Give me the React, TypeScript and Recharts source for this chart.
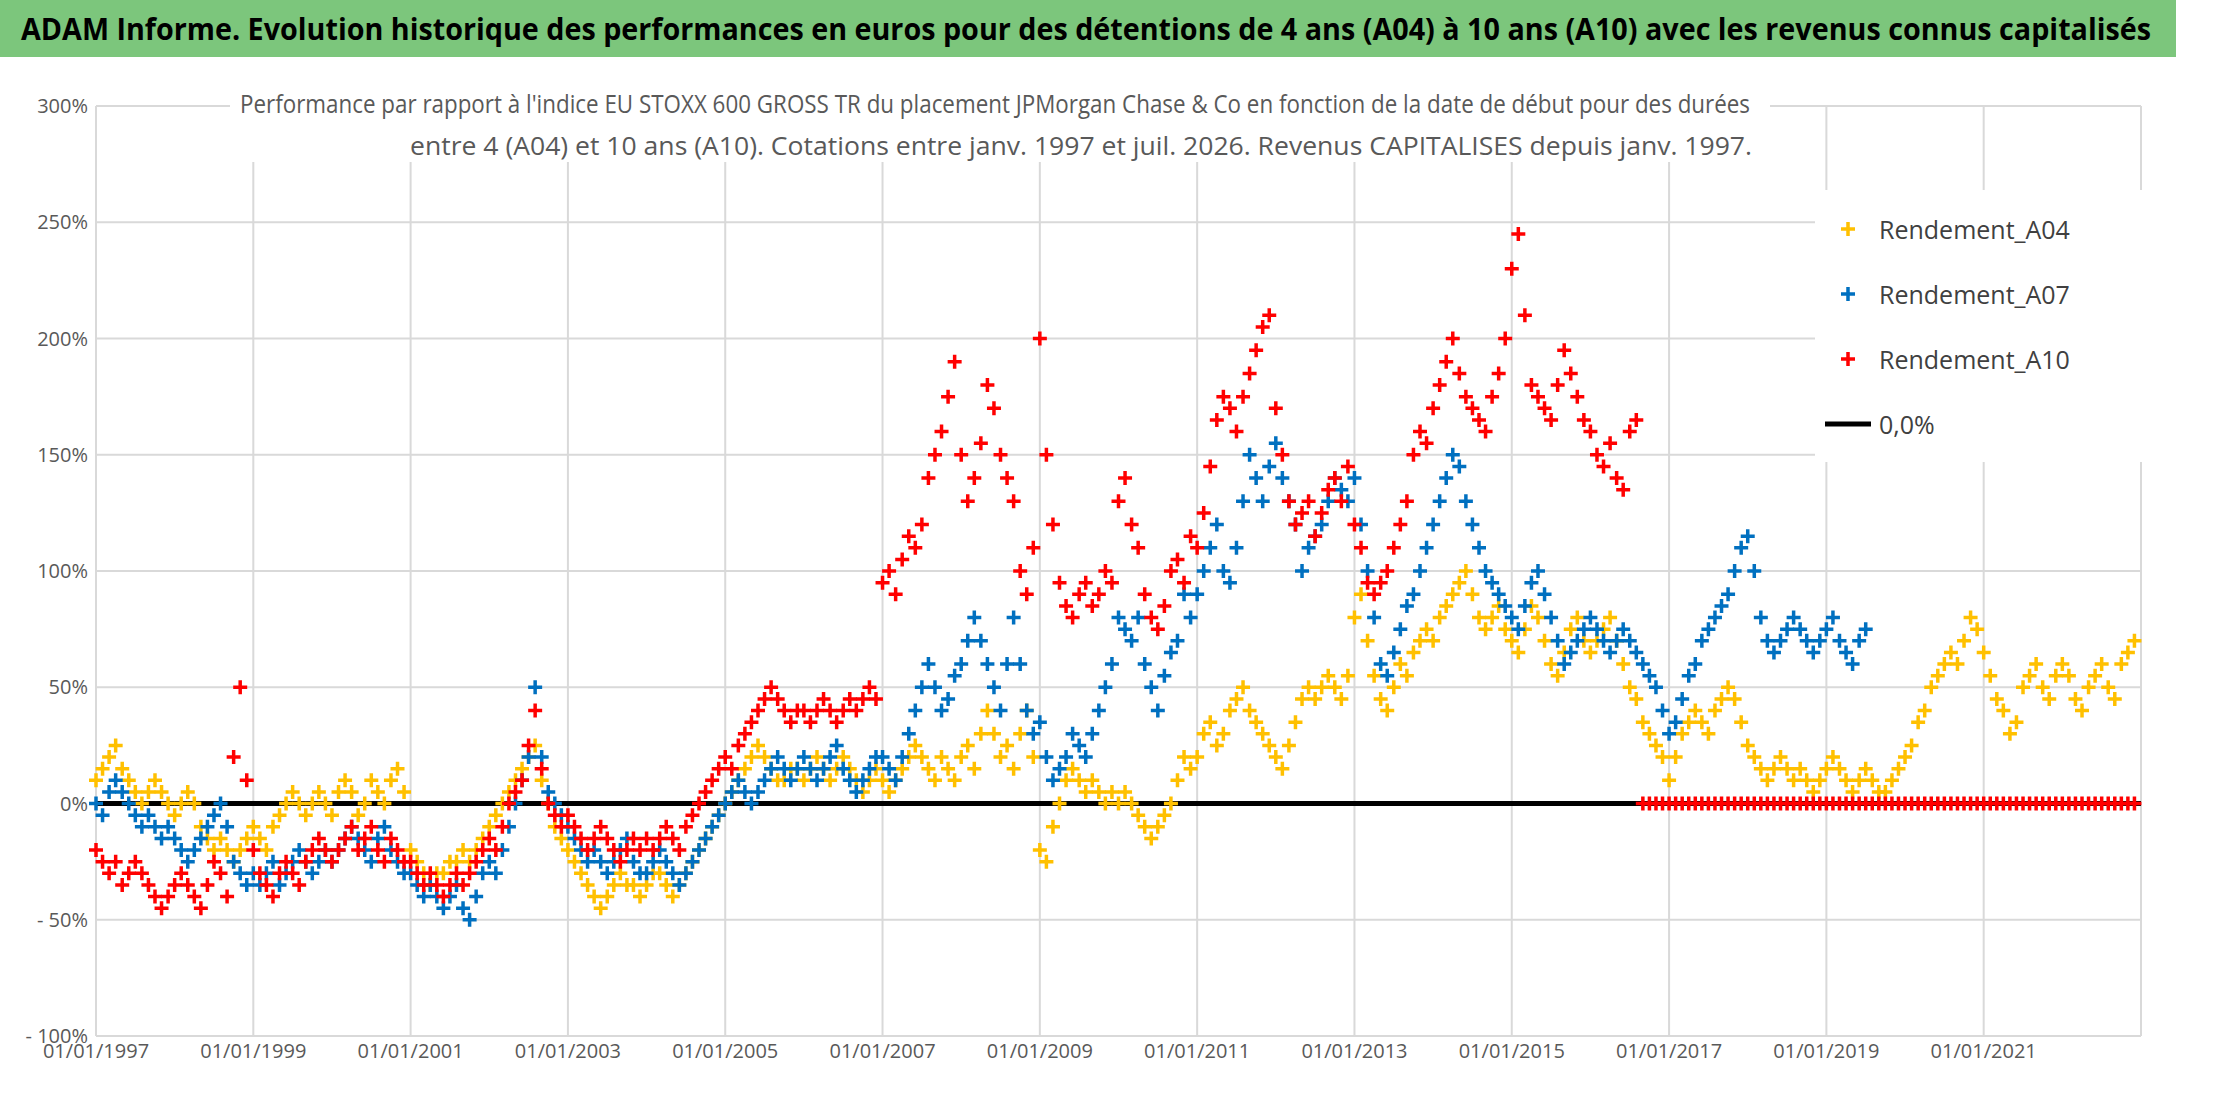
import React from "react";
import {
  ScatterChart,
  Scatter,
  XAxis,
  YAxis,
  CartesianGrid,
} from "recharts";

// monthly readings, one row per year (values in %)
const START_YEAR = 1997;
const a04Values: number[][] = [
  [10, 15, 20, 25, 15, 10, 5, 0, 5, 10, 5, 0],
  [-5, 0, 5, 0, -10, -15, -20, -15, -20, -25, -20, -15],
  [-10, -15, -20, -10, -5, 0, 5, 0, -5, 0, 5, 0],
  [-5, 5, 10, 5, -5, 0, 10, 5, 0, 10, 15, 5],
  [-20, -25, -30, -35, -30, -30, -25, -25, -20, -25, -20, -15],
  [-10, -5, 0, 5, 10, 15, 20, 25, 10, 0, -10, -15],
  [-20, -25, -30, -35, -40, -45, -40, -35, -30, -35, -35, -40],
  [-35, -30, -30, -35, -40, -35, -30, -25, -20, -15, -10, -5],
  [0, 5, 10, 15, 20, 25, 20, 15, 10, 10, 15, 15],
  [10, 15, 20, 15, 10, 15, 20, 15, 10, 5, 10, 15],
  [10, 5, 10, 15, 20, 25, 20, 15, 10, 20, 15, 10],
  [20, 25, 15, 30, 40, 30, 20, 25, 15, 30, 40, 20],
  [-20, -25, -10, 0, 10, 15, 10, 5, 10, 5, 0, 5],
  [0, 5, 0, -5, -10, -15, -10, -5, 0, 10, 20, 15],
  [20, 30, 35, 25, 30, 40, 45, 50, 40, 35, 30, 25],
  [20, 15, 25, 35, 45, 50, 45, 50, 55, 50, 45, 55],
  [80, 90, 70, 55, 45, 40, 50, 60, 55, 65, 70, 75],
  [70, 80, 85, 90, 95, 100, 90, 80, 75, 80, 85, 75],
  [70, 65, 75, 85, 80, 70, 60, 55, 65, 75, 80, 70],
  [65, 70, 75, 80, 70, 60, 50, 45, 35, 30, 25, 20],
  [10, 20, 30, 35, 40, 35, 30, 40, 45, 50, 45, 35],
  [25, 20, 15, 10, 15, 20, 15, 10, 15, 10, 5, 10],
  [15, 20, 15, 10, 5, 10, 15, 10, 5, 5, 10, 15],
  [20, 25, 35, 40, 50, 55, 60, 65, 60, 70, 80, 75],
  [65, 55, 45, 40, 30, 35, 50, 55, 60, 50, 45, 55],
  [60, 55, 45, 40, 50, 55, 60, 50, 45, 60, 65, 70],
];

const a07Values: number[][] = [
  [0, -5, 5, 10, 5, 0, -5, -10, -5, -10, -15, -10],
  [-15, -20, -25, -20, -15, -10, -5, 0, -10, -25, -30, -35],
  [-30, -35, -30, -25, -35, -30, -25, -20, -25, -30, -25, -20],
  [-25, -20, -15, -10, -15, -20, -25, -15, -10, -20, -25, -30],
  [-30, -35, -40, -35, -40, -45, -40, -35, -45, -50, -40, -30],
  [-25, -30, -20, -10, 0, 10, 20, 50, 20, 5, 0, -5],
  [-10, -15, -20, -25, -20, -25, -30, -25, -20, -15, -25, -30],
  [-30, -25, -20, -25, -30, -35, -30, -25, -20, -15, -10, -5],
  [0, 5, 10, 5, 0, 5, 10, 15, 20, 15, 10, 15],
  [20, 15, 10, 15, 20, 25, 15, 10, 5, 10, 15, 20],
  [20, 15, 10, 20, 30, 40, 50, 60, 50, 40, 45, 55],
  [60, 70, 80, 70, 60, 50, 40, 60, 80, 60, 40, 30],
  [35, 20, 10, 15, 20, 30, 25, 20, 30, 40, 50, 60],
  [80, 75, 70, 80, 60, 50, 40, 55, 65, 70, 90, 80],
  [90, 100, 110, 120, 100, 95, 110, 130, 150, 140, 130, 145],
  [155, 140, 130, 120, 100, 110, 115, 120, 130, 140, 135, 130],
  [140, 120, 100, 80, 60, 55, 65, 75, 85, 90, 100, 110],
  [120, 130, 140, 150, 145, 130, 120, 110, 100, 95, 90, 85],
  [80, 75, 85, 95, 100, 90, 80, 70, 60, 65, 70, 75],
  [80, 75, 70, 65, 70, 75, 70, 65, 60, 55, 50, 40],
  [30, 35, 45, 55, 60, 70, 75, 80, 85, 90, 100, 110],
  [115, 100, 80, 70, 65, 70, 75, 80, 75, 70, 65, 70],
  [75, 80, 70, 65, 60, 70, 75],
];

const a10Values: number[][] = [
  [-20, -25, -30, -25, -35, -30, -25, -30, -35, -40, -45, -40],
  [-35, -30, -35, -40, -45, -35, -25, -30, -40, 20, 50, 10],
  [-20, -30, -35, -40, -30, -25, -30, -35, -25, -20, -15, -20],
  [-25, -20, -15, -10, -20, -15, -10, -20, -25, -15, -20, -25],
  [-25, -30, -35, -30, -35, -40, -35, -30, -35, -30, -25, -20],
  [-15, -20, -10, 0, 5, 10, 25, 40, 15, 0, -5, -10],
  [-5, -10, -15, -20, -15, -10, -15, -20, -25, -20, -15, -20],
  [-15, -20, -15, -10, -15, -20, -10, -5, 0, 5, 10, 15],
  [20, 15, 25, 30, 35, 40, 45, 50, 45, 40, 35, 40],
  [40, 35, 40, 45, 40, 35, 40, 45, 40, 45, 50, 45],
  [95, 100, 90, 105, 115, 110, 120, 140, 150, 160, 175, 190],
  [150, 130, 140, 155, 180, 170, 150, 140, 130, 100, 90, 110],
  [200, 150, 120, 95, 85, 80, 90, 95, 85, 90, 100, 95],
  [130, 140, 120, 110, 90, 80, 75, 85, 100, 105, 95, 115],
  [110, 125, 145, 165, 175, 170, 160, 175, 185, 195, 205, 210],
  [170, 150, 130, 120, 125, 130, 115, 125, 135, 140, 130, 145],
  [120, 110, 95, 90, 95, 100, 110, 120, 130, 150, 160, 155],
  [170, 180, 190, 200, 185, 175, 170, 165, 160, 175, 185, 200],
  [230, 245, 210, 180, 175, 170, 165, 180, 195, 185, 175, 165],
  [160, 150, 145, 155, 140, 135, 160, 165, 0, 0, 0, 0],
  [0, 0, 0, 0, 0, 0, 0, 0, 0, 0, 0, 0],
  [0, 0, 0, 0, 0, 0, 0, 0, 0, 0, 0, 0],
  [0, 0, 0, 0, 0, 0, 0, 0, 0, 0, 0, 0],
  [0, 0, 0, 0, 0, 0, 0, 0, 0, 0, 0, 0],
  [0, 0, 0, 0, 0, 0, 0, 0, 0, 0, 0, 0],
  [0, 0, 0, 0, 0, 0, 0, 0, 0, 0, 0, 0],
];

const zeroLine = [
  { x: 1997, y: 0 },
  { x: 2023, y: 0 },
];

const xTicks = [1997, 1999, 2001, 2003, 2005, 2007, 2009, 2011, 2013, 2015, 2017, 2019, 2021, 2023];
const yTicks = [-100, -50, 0, 50, 100, 150, 200, 250, 300];

const toPoints = (rows: number[][]) =>
  rows.flatMap((row, yi) => row.map((v, mi) => ({ x: START_YEAR + yi + mi / 12, y: v })));

const COLORS = { a04: "#FFC000", a07: "#0070C0", a10: "#FF0000" };

const cross = (color: string) => (props: any) => {
  const { cx, cy } = props;
  if (cx == null || cy == null) return <g />;
  const s = 7;
  return (
    <path
      d={`M${cx - s},${cy}H${cx + s}M${cx},${cy - s}V${cy + s}`}
      stroke={color}
      strokeWidth={3.5}
    />
  );
};

const FONT = "'Open Sans', sans-serif";

const legendItems = [
  { label: "Rendement_A04", color: COLORS.a04, line: false },
  { label: "Rendement_A07", color: COLORS.a07, line: false },
  { label: "Rendement_A10", color: COLORS.a10, line: false },
  { label: "0,0%", color: "#000", line: true },
];

export default function App() {
  const a04 = toPoints(a04Values);
  const a07 = toPoints(a07Values);
  const a10 = toPoints(a10Values);
  return (
    <div style={{ position: "absolute", left: 0, top: 0, width: 2216, height: 1102, background: "#fff", overflow: "hidden" }}>
      <ScatterChart width={2216} height={1102} margin={{ top: 106, right: 75, left: 6, bottom: 26 }}>
        <CartesianGrid stroke="#d9d9d9" strokeWidth={2} />
        <XAxis
          type="number"
          dataKey="x"
          domain={[1997, 2023]}
          ticks={xTicks}
          tickFormatter={(v) => (v === 2023 ? "" : `01/01/${v}`)}
          axisLine={{ stroke: "#d9d9d9" }}
          tickLine={false}
          tick={{ fontSize: 20, fill: "#595959", fontFamily: FONT }}
          height={40}
        />
        <YAxis
          type="number"
          dataKey="y"
          domain={[-100, 300]}
          ticks={yTicks}
          tickFormatter={(v) => (v < 0 ? `- ${-v}%` : `${v}%`)}
          axisLine={false}
          tickLine={false}
          tick={{ fontSize: 20, fill: "#595959", fontFamily: FONT }}
          width={90}
        />
        <Scatter name="0,0%" data={zeroLine} line={{ stroke: "#000", strokeWidth: 5 }} shape={() => <g />} isAnimationActive={false} />
        <Scatter name="Rendement_A04" data={a04} shape={cross(COLORS.a04)} isAnimationActive={false} />
        <Scatter name="Rendement_A07" data={a07} shape={cross(COLORS.a07)} isAnimationActive={false} />
        <Scatter name="Rendement_A10" data={a10} shape={cross(COLORS.a10)} isAnimationActive={false} />
      </ScatterChart>
      <svg width={2216} height={170} style={{ position: "absolute", left: 0, top: 0 }}>
        <rect x={0} y={0} width={2176} height={57} fill="#7cc67c" />
        <text x={21} y={40} textLength={2130} lengthAdjust="spacingAndGlyphs" fontFamily={FONT} fontWeight="bold" fontSize={30} fill="#000">
          ADAM Informe. Evolution historique des performances en euros pour des détentions de 4 ans (A04) à 10 ans (A10) avec les revenus connus capitalisés
        </text>
        <rect x={230} y={86} width={1540} height={76} fill="#fff" />
        <text x={240} y={113} textLength={1510} lengthAdjust="spacingAndGlyphs" fontFamily={FONT} fontSize={26} fill="#595959">
          Performance par rapport à l'indice EU STOXX 600 GROSS TR  du placement JPMorgan Chase &amp; Co en fonction de la date de début pour des durées
        </text>
        <text x={410} y={155} textLength={1342} lengthAdjust="spacingAndGlyphs" fontFamily={FONT} fontSize={26} fill="#595959">
          entre 4 (A04) et 10 ans (A10). Cotations entre janv. 1997 et juil. 2026. Revenus CAPITALISES depuis janv. 1997.
        </text>
      </svg>
      <div
        style={{
          position: "absolute", left: 1815, top: 190, width: 330, background: "#fff", padding: "6px 10px",
          fontFamily: FONT, fontSize: 25, color: "#404040",
        }}
      >
        {legendItems.map((it) => (
          <div key={it.label} style={{ display: "flex", alignItems: "center", height: 65 }}>
            <svg width={46} height={20}>
              {it.line ? (
                <line x1={0} x2={46} y1={10} y2={10} stroke="#000" strokeWidth={5} />
              ) : (
                <path d="M16,10H30M23,3V17" stroke={it.color} strokeWidth={3.5} />
              )}
            </svg>
            <span style={{ marginLeft: 8 }}>{it.label}</span>
          </div>
        ))}
      </div>
    </div>
  );
}
